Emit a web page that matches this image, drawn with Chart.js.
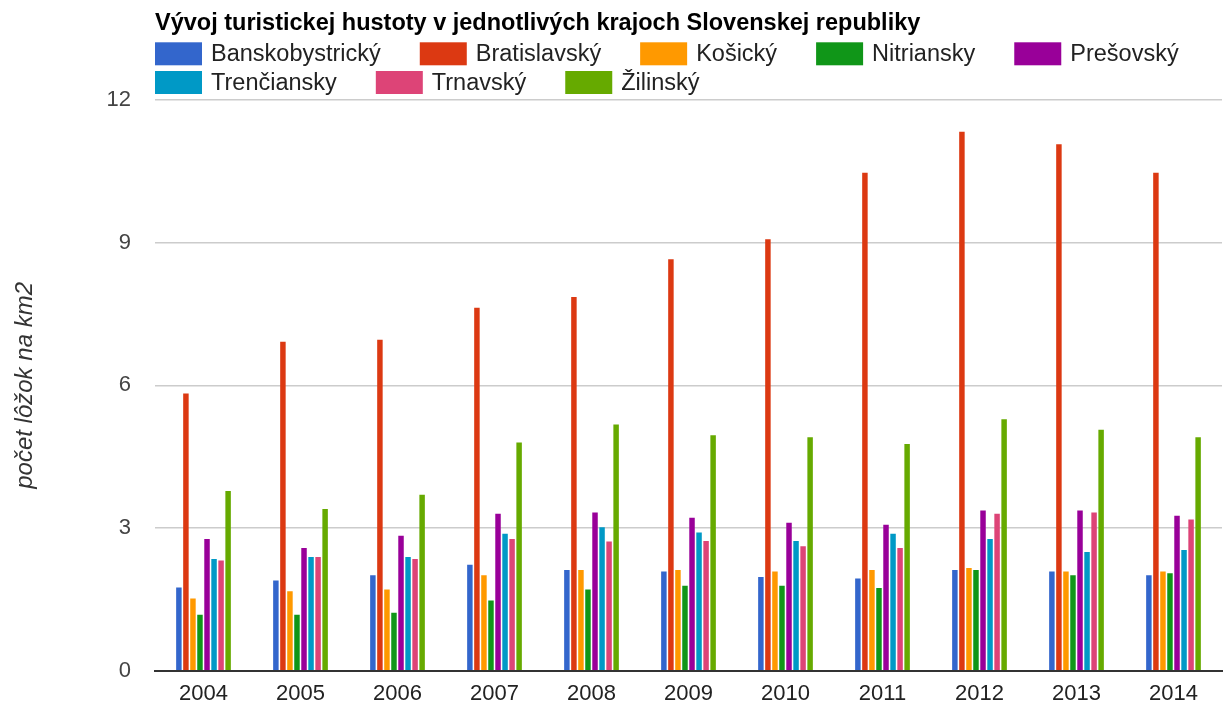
<!DOCTYPE html>
<html>
<head>
<meta charset="utf-8">
<script src="https://cdn.jsdelivr.net/npm/chart.js@4.4.1/dist/chart.umd.min.js"></script>
<style>
  html, body { margin: 0; padding: 0; background: #ffffff; }
  #wrap { width: 1231px; height: 708px; }
</style>
</head>
<body>
<div id="wrap"><canvas id="c" width="1231" height="708"></canvas></div>
<script>
const chartTitle = 'Vývoj turistickej hustoty v jednotlivých krajoch Slovenskej republiky';
const yAxisTitle = 'počet lôžok na km2';
const years = ['2004', '2005', '2006', '2007', '2008', '2009', '2010', '2011', '2012', '2013', '2014'];
const yTicks = [0, 3, 6, 9, 12];

const seriesNames = ['Banskobystrický', 'Bratislavský', 'Košický', 'Nitriansky', 'Prešovský', 'Trenčiansky', 'Trnavský', 'Žilinský'];
const seriesColors = ['#3366cc', '#dc3912', '#ff9900', '#109618', '#990099', '#0099c6', '#dd4477', '#66aa00'];

const banskobystricky = [1.75, 1.90, 2.01, 2.23, 2.12, 2.09, 1.97, 1.94, 2.12, 2.09, 2.01];
const bratislavsky    = [5.83, 6.92, 6.96, 7.63, 7.86, 8.65, 9.07, 10.47, 11.33, 11.07, 10.47];
const kosicky         = [1.52, 1.67, 1.71, 2.01, 2.12, 2.12, 2.09, 2.12, 2.16, 2.09, 2.09];
const nitriansky      = [1.18, 1.18, 1.22, 1.48, 1.71, 1.79, 1.79, 1.74, 2.12, 2.01, 2.05];
const presovsky       = [2.77, 2.58, 2.84, 3.30, 3.33, 3.22, 3.11, 3.07, 3.37, 3.37, 3.26];
const trenciansky     = [2.35, 2.39, 2.39, 2.88, 3.02, 2.91, 2.73, 2.88, 2.77, 2.50, 2.54];
const trnavsky        = [2.32, 2.39, 2.35, 2.77, 2.72, 2.73, 2.62, 2.58, 3.30, 3.33, 3.18];
const zilinsky        = [3.78, 3.40, 3.70, 4.80, 5.18, 4.95, 4.91, 4.77, 5.29, 5.07, 4.91];

const seriesValues = [banskobystricky, bratislavsky, kosicky, nitriansky, presovsky, trenciansky, trnavsky, zilinsky];

const FONT = "'Liberation Sans', Arial, sans-serif";

const topLegend = {
  id: 'topLegend',
  afterDraw(chart, args, o) {
    const ctx = chart.ctx;
    const area = chart.chartArea;
    ctx.save();
    ctx.font = o.fontSize + 'px ' + FONT;
    ctx.textBaseline = 'middle';
    ctx.textAlign = 'left';
    let x = area.left;
    let y = o.top;
    chart.data.datasets.forEach(ds => {
      const tw = ctx.measureText(ds.label).width;
      const w = o.boxW + o.gap + tw;
      if (x + w > area.right && x > area.left) {
        x = area.left;
        y += o.rowH;
      }
      ctx.fillStyle = ds.backgroundColor;
      ctx.fillRect(x, y, o.boxW, o.boxH);
      ctx.fillStyle = o.color;
      ctx.fillText(ds.label, x + o.boxW + o.gap, y + o.boxH / 2 + 1);
      x += w + o.spacing;
    });
    ctx.restore();
  }
};

const datasets = seriesNames.map((name, i) => ({
  label: name,
  data: seriesValues[i],
  backgroundColor: seriesColors[i],
  borderWidth: 0,
  categoryPercentage: 0.58,
  barPercentage: 0.78
}));

new Chart(document.getElementById('c'), {
  type: 'bar',
  data: { labels: years, datasets: datasets },
  plugins: [topLegend],
  options: {
    responsive: false,
    animation: false,
    layout: { padding: { left: 0, right: 9, top: 0, bottom: 0 } },
    plugins: {
      legend: { display: false },
      tooltip: { enabled: false },
      title: {
        display: true,
        text: chartTitle,
        align: 'start',
        fullSize: false,
        color: '#000000',
        font: { family: FONT, size: 23.5, weight: 'bold', lineHeight: 1.2 },
        padding: { top: 9, bottom: 62.8 }
      },
      topLegend: {
        top: 42.3, boxW: 47, boxH: 23, gap: 9, spacing: 39, rowH: 28.7,
        fontSize: 23.5, color: '#222222'
      }
    },
    scales: {
      x: {
        grid: { display: false, drawTicks: false },
        border: { display: true, color: '#333333', width: 2 },
        ticks: { color: '#222222', font: { family: FONT, size: 22 }, padding: 10, maxRotation: 0 },
        afterFit(scale) { scale.height = 36; }
      },
      y: {
        min: 0,
        max: 12,
        afterBuildTicks(scale) { scale.ticks = yTicks.map(v => ({ value: v })); },
        grid: { color: '#cccccc', lineWidth: 1.5, drawTicks: false },
        border: { display: false },
        ticks: { color: '#444444', font: { family: FONT, size: 22 }, padding: 24 },
        title: {
          display: true,
          text: yAxisTitle,
          color: '#333333',
          font: { family: FONT, size: 24, style: 'italic' },
          padding: { top: 11, bottom: 0 }
        },
        afterFit(scale) { scale.width = 155; }
      }
    }
  }
});
</script>
</body>
</html>
